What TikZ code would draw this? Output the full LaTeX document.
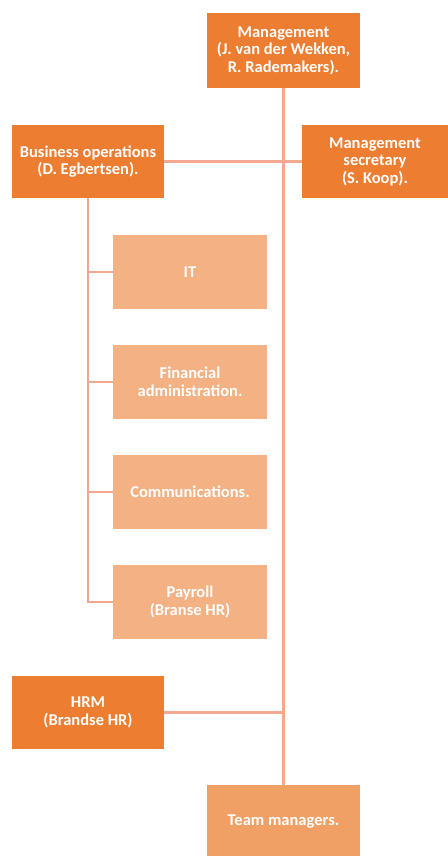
\documentclass[tikz,border=0pt]{standalone}
\usepackage{fontspec}
\setmainfont{Carlito}
\definecolor{darkor}{HTML}{ED7D31}
\definecolor{lightor}{HTML}{F4B183}
\definecolor{midor}{HTML}{F0A064}
\definecolor{linecol}{HTML}{F4A890}
\tikzset{
  box/.style={fill=darkor, text=white, font=\bfseries\fontsize{16.5}{17.5}\selectfont, align=center, inner sep=0pt, minimum height=73pt},
  subbox/.style={box, fill=lightor, minimum width=154pt, minimum height=74pt},
  conn/.style={draw=linecol, line width=2.2pt}
}
\begin{document}
\begin{tikzpicture}[x=1pt,y=-1pt]
\useasboundingbox (0,0) rectangle (447,856);
\fill[white] (0,0) rectangle (447,856);
% nodes
\node[box, minimum width=153pt, minimum height=75pt] (mgmt) at (283.5,50.5) {Management\\(J. van der Wekken,\\R. Rademakers).};
\node[box, minimum width=152pt] (bo) at (88,161.5) {Business operations\\(D. Egbertsen).};
\node[box, minimum width=146pt] (sec) at (375,161.5) {Management\\secretary\\(S. Koop).};
\node[subbox] (it) at (190,272) {IT};
\node[subbox] (fin) at (190,382) {Financial\\administration.};
\node[subbox] (com) at (190,492) {Communications.};
\node[subbox] (pay) at (190,602) {Payroll\\(Branse HR)};
\node[box, minimum width=152pt] (hrm) at (88,712.5) {HRM\\(Brandse HR)};
\node[box, fill=midor, minimum width=153pt, minimum height=74pt] (team) at (283.5,822) {Team managers.};
% connectors
\coordinate (hj) at (mgmt.south |- hrm.east);
\draw[conn] (mgmt.south) -- (team.north);
\draw[conn] (bo.east) -- (sec.west);
\draw[conn] (hrm.east) -- (hj);
\coordinate (bob) at (bo.south |- pay.west);
\draw[conn] (bo.south) -- (bob) -- (pay.west);
\draw[conn] (bo.south |- it.west) -- (it.west);
\draw[conn] (bo.south |- fin.west) -- (fin.west);
\draw[conn] (bo.south |- com.west) -- (com.west);
\end{tikzpicture}
\end{document}
